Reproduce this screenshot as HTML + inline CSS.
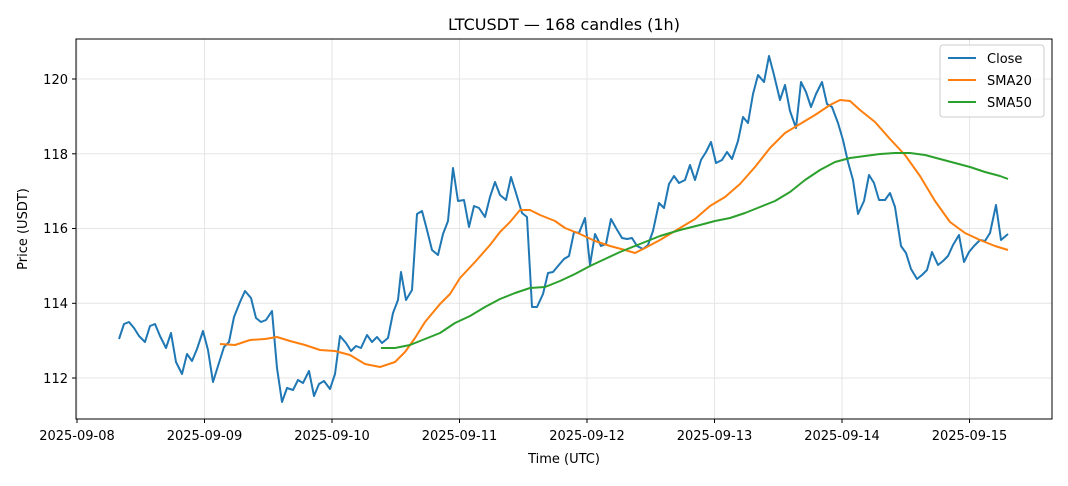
<!DOCTYPE html>
<html><head><meta charset="utf-8"><style>
html,body{margin:0;padding:0;background:#fff;}
svg text{font-family:"DejaVu Sans","Liberation Sans",sans-serif;fill:#000;}
</style></head><body>
<svg width="1068" height="481" viewBox="0 0 1068 481" xmlns="http://www.w3.org/2000/svg">
<rect width="1068" height="481" fill="#fff"/>
<text x="564" y="30" font-size="16" text-anchor="middle">LTCUSDT — 168 candles (1h)</text>
<g stroke="#e6e6e6" stroke-width="1">
<line x1="77" y1="39" x2="77" y2="419"/><line x1="204.5" y1="39" x2="204.5" y2="419"/><line x1="332" y1="39" x2="332" y2="419"/><line x1="459.5" y1="39" x2="459.5" y2="419"/><line x1="587" y1="39" x2="587" y2="419"/><line x1="714.5" y1="39" x2="714.5" y2="419"/><line x1="842" y1="39" x2="842" y2="419"/><line x1="969.5" y1="39" x2="969.5" y2="419"/>
<line x1="76" y1="378" x2="1052" y2="378"/><line x1="76" y1="303.3" x2="1052" y2="303.3"/><line x1="76" y1="228.5" x2="1052" y2="228.5"/><line x1="76" y1="153.8" x2="1052" y2="153.8"/><line x1="76" y1="79" x2="1052" y2="79"/>
</g>
<rect x="76" y="39" width="976" height="380" fill="none" stroke="#000" stroke-width="1"/>
<g stroke="#000"><line x1="77" y1="419" x2="77" y2="423"/><line x1="204.5" y1="419" x2="204.5" y2="423"/><line x1="332" y1="419" x2="332" y2="423"/><line x1="459.5" y1="419" x2="459.5" y2="423"/><line x1="587" y1="419" x2="587" y2="423"/><line x1="714.5" y1="419" x2="714.5" y2="423"/><line x1="842" y1="419" x2="842" y2="423"/><line x1="969.5" y1="419" x2="969.5" y2="423"/>
<line x1="72" y1="378" x2="76" y2="378"/><line x1="72" y1="303.3" x2="76" y2="303.3"/><line x1="72" y1="228.5" x2="76" y2="228.5"/><line x1="72" y1="153.8" x2="76" y2="153.8"/><line x1="72" y1="79" x2="76" y2="79"/></g>
<g font-size="13" text-anchor="middle">
<text x="77" y="440">2025-09-08</text><text x="204.5" y="440">2025-09-09</text><text x="332" y="440">2025-09-10</text><text x="459.5" y="440">2025-09-11</text><text x="587" y="440">2025-09-12</text><text x="714.5" y="440">2025-09-13</text><text x="842" y="440">2025-09-14</text><text x="969.5" y="440">2025-09-15</text></g>
<g font-size="13" text-anchor="end">
<text x="68" y="383">112</text><text x="68" y="308">114</text><text x="68" y="233">116</text><text x="68" y="159">118</text><text x="68" y="84">120</text></g>
<text x="564" y="463" font-size="13" text-anchor="middle">Time (UTC)</text>
<text transform="translate(27,229) rotate(-90)" font-size="13" text-anchor="middle">Price (USDT)</text>
<polyline fill="none" stroke="#1f77b4" stroke-width="2" stroke-linejoin="round" points="119,339 124,324 129,322 134,328 139,336 145,342 150,326 155,324 160,336 166,348 171,333 176,362 182,374 187,354 192,361 197,349 203,331 208,350 213,382 218,366 224,347 229,342 234,317 240,302 245,291 251,298 256,318 261,322 266,320 272,311 277,368 282,402 287,388 293,390 298,380 303,383 309,371 314,396 319,384 324,381 330,389 335,374 340,336 346,343 351,351 356,346 361,348 367,335 372,342 377,337 382,343 388,338 393,313 398,300 401,272 406,300 412,290 417,214 422,211 427,230 432,250 438,255 443,234 448,221 453,168 458,201 464,200 469,227 474,206 479,208 485,217 490,197 495,182 500,195 506,200 511,177 516,193 522,213 527,217 532,307 537,307 543,294 548,273 553,272 558,266 564,259 569,256 574,232 579,233 585,218 590,265 595,234 601,246 606,244 611,219 616,228 622,238 627,239 632,238 637,246 643,249 648,245 653,231 659,203 664,208 669,184 674,176 679,183 685,180 690,165 695,180 701,160 706,152 711,142 716,163 722,160 727,152 732,159 738,141 743,117 748,123 753,94 758,75 764,82 769,56 774,75 780,100 785,85 790,111 796,128 801,82 806,92 811,107 816,94 822,82 827,104 832,107 838,123 843,140 848,162 853,180 858,214 864,201 869,175 874,183 879,200 885,200 890,193 895,207 901,246 906,253 911,269 917,279 922,275 927,270 932,252 938,265 943,261 948,256 953,245 959,235 964,262 969,252 974,246 980,240 985,241 990,233 996,205 1001,240 1008,234"/>
<polyline fill="none" stroke="#ff7f0e" stroke-width="2" stroke-linejoin="round" points="220,344 235,345 250,340 265,339 277,337 290,341 305,345 320,350 335,351 350,355 365,364 380,367 395,362 405,352 415,338 425,322 440,304 450,294 460,278 475,262 490,245 500,232 510,222 520,210 530,210 540,215 555,221 565,228 580,234 595,241 610,246 625,250 635,253 645,248 660,240 680,228 695,219 710,206 725,197 740,184 755,167 770,148 785,133 800,124 815,115 830,105 840,100 850,101 860,110 875,122 890,139 905,155 920,176 935,201 950,222 965,233 980,240 995,246 1008,250"/>
<polyline fill="none" stroke="#2ca02c" stroke-width="2" stroke-linejoin="round" points="381,348 395,348 410,345 425,339 440,333 455,323 470,316 485,307 500,299 515,293 530,288 545,287 560,281 575,274 590,266 605,259 620,252 640,244 660,236 680,230 700,225 715,221 730,218 745,213 760,207 775,201 790,192 805,180 820,170 835,162 850,158 865,156 880,154 895,153 910,153 925,155 940,159 955,163 970,167 985,172 1000,176 1008,179"/>
<rect x="940" y="45" width="104" height="72" rx="3" fill="#fff" fill-opacity="0.8" stroke="#ccc"/>
<g stroke-width="2"><line x1="948" y1="58" x2="976" y2="58" stroke="#1f77b4"/><line x1="948" y1="80" x2="976" y2="80" stroke="#ff7f0e"/><line x1="948" y1="102" x2="976" y2="102" stroke="#2ca02c"/></g>
<g font-size="13"><text x="987" y="63">Close</text><text x="987" y="85">SMA20</text><text x="987" y="107">SMA50</text></g>
</svg>
</body></html>
